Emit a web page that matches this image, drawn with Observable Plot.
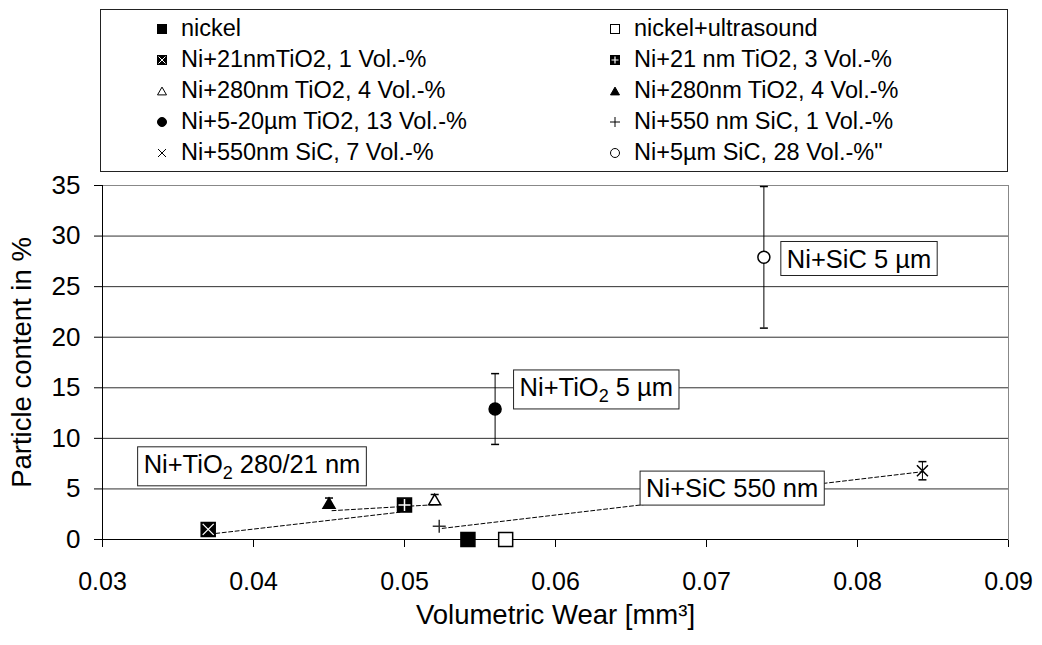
<!DOCTYPE html>
<html>
<head>
<meta charset="utf-8">
<script src="https://cdn.jsdelivr.net/npm/d3@7"></script>
<script src="https://cdn.jsdelivr.net/npm/@observablehq/plot@0.6"></script>
<style>
html,body{margin:0;padding:0;background:#fff;}
body{font-family:"Liberation Sans",Arial,sans-serif;color:#000;width:1042px;}
#legendWrap{position:relative;height:178px;}
#legend{position:absolute;left:100px;top:9px;width:908px;height:163px;box-sizing:border-box;border:1px solid #222;
  display:grid;grid-template-columns:453px 453px;grid-auto-rows:31px;padding-top:3px;}
.item{display:flex;align-items:center;font-size:23.5px;white-space:nowrap;line-height:31px;}
.item svg{margin-left:53px;margin-right:11px;flex:none;overflow:visible;}
#chart svg{display:block;}
g[aria-label="y-axis tick label"] text{font-size:26px;}
g[aria-label="x-axis tick label"] text{font-size:25px;}
g[aria-label="y-axis label"] text,g[aria-label="x-axis label"] text{font-size:27.5px;}
</style>
</head>
<body>
<div id="legendWrap"><div id="legend"></div></div>
<div id="chart"></div>
<script>
// ---- data ----
const series = ["nickel", "nickel+ultrasound", "Ni+21nmTiO2, 1 Vol.-%", "Ni+21 nm TiO2, 3 Vol.-%",
  "Ni+280nm TiO2, 4 Vol.-%", "Ni+280nm TiO2, 4 Vol.-%", "Ni+5-20µm TiO2, 13 Vol.-%",
  "Ni+550 nm SiC, 1 Vol.-%", "Ni+550nm SiC, 7 Vol.-%", "Ni+5µm SiC, 28 Vol.-%\""];
const wear    = [0.0542, 0.0567, 0.0370, 0.0500, 0.0520, 0.0450, 0.0560, 0.0523, 0.0843, 0.0738];
const content = [0, 0, 1.0, 3.4, 3.95, 3.6, 12.9, 1.3, 6.8, 27.9];
const errBar  = [0, 0, 0, 0, 0.5, 0.5, 3.5, 0, 0.9, 7.0];

const trendGroup = ["TiO2 21nm", "TiO2 21nm", "TiO2 280nm", "TiO2 280nm", "SiC 550nm", "SiC 550nm"];
const trendWear  = [0.0375, 0.0497, 0.0452, 0.0521, 0.0525, 0.0843];
const trendCont  = [0.6, 2.7, 2.85, 3.45, 1.1, 6.7];

const noteText = ["Ni+TiO2 280/21 nm", "Ni+TiO2 5 µm", "Ni+SiC 550 nm", "Ni+SiC 5 µm"];
const noteWear = [0.0399, 0.0627, 0.0717, 0.0801];
const noteCont = [7.4, 15.0, 5.0, 27.7];

const xTicks = [0.03, 0.04, 0.05, 0.06, 0.07, 0.08, 0.09];
const yTicks = [0, 5, 10, 15, 20, 25, 30, 35];

// ---- marker styles (per series index) ----
const markerKind = ["squareFill", "squareOpen", "squareX", "squarePlus", "triangleOpen",
  "triangleFill", "circleFill", "plus", "times", "circleOpen"];

// custom symbols: r = sqrt(size/PI) is the half extent in px
const sym = fn => ({draw(c, size) { fn(c, Math.sqrt(size / Math.PI)); }});
const squareSym = sym((c, r) => { c.rect(-r, -r, 2 * r, 2 * r); });
const triSym = sym((c, r) => { const h = r * Math.sqrt(3); c.moveTo(0, -h / 2); c.lineTo(r, h / 2); c.lineTo(-r, h / 2); c.closePath(); });
const plusSym = sym((c, r) => { c.moveTo(-r, 0); c.lineTo(r, 0); c.moveTo(0, -r); c.lineTo(0, r); });
const timesSym = sym((c, r) => { c.moveTo(-r, -r); c.lineTo(r, r); c.moveTo(-r, r); c.lineTo(r, -r); });
const capSym = sym((c, r) => { c.moveTo(-r, 0); c.lineTo(r, 0); });

const pts = series.map((name, i) => ({name, x: wear[i], y: content[i], e: errBar[i], kind: markerKind[i]}));
const of = k => pts.filter(d => d.kind === k);

// ---- legend ----
const legend = d3.select("#legend");
series.forEach((name, i) => {
  const item = legend.append("div").attr("class", "item");
  const s = item.append("svg").attr("width", 16).attr("height", 16).append("g").attr("transform", "translate(8,8)");
  const k = markerKind[i];
  const half = 4.5;
  if (k === "squareFill" || k === "squareOpen" || k === "squareX" || k === "squarePlus") {
    s.append("rect").attr("x", -half).attr("y", -half).attr("width", 2 * half).attr("height", 2 * half)
      .attr("fill", k === "squareOpen" ? "#fff" : "#000").attr("stroke", "#000").attr("stroke-width", 1);
    if (k === "squareX") s.append("path").attr("d", `M${-half + 1},${-half + 1}L${half - 1},${half - 1}M${-half + 1},${half - 1}L${half - 1},${-half + 1}`).attr("stroke", "#fff").attr("stroke-width", 1);
    if (k === "squarePlus") s.append("path").attr("d", `M${-half + 1},0L${half - 1},0M0,${-half + 1}L0,${half - 1}`).attr("stroke", "#fff").attr("stroke-width", 1.2);
  } else if (k === "triangleOpen" || k === "triangleFill") {
    const r = 4.5, h = r * Math.sqrt(3);
    s.append("path").attr("d", `M0,${-h / 2}L${r},${h / 2}L${-r},${h / 2}Z`)
      .attr("fill", k === "triangleOpen" ? "#fff" : "#000").attr("stroke", "#000");
  } else if (k === "circleFill" || k === "circleOpen") {
    s.append("circle").attr("r", 4.5).attr("fill", k === "circleOpen" ? "#fff" : "#000").attr("stroke", "#000");
  } else if (k === "plus") {
    s.append("path").attr("d", "M-5,0L5,0M0,-5L0,5").attr("stroke", "#000");
  } else if (k === "times") {
    s.append("path").attr("d", "M-4,-4L4,4M-4,4L4,-4").attr("stroke", "#000");
  }
  item.append("span").text(name);
});

// ---- chart ----
const trend = trendWear.map((x, i) => ({x, y: trendCont[i], g: trendGroup[i]}));
const notes = noteText.map((t, i) => ({t, x: noteWear[i], y: noteCont[i]}));
const withErr = pts.filter(d => d.e > 0);

const chart = Plot.plot({
  width: 1042,
  height: 467,
  marginTop: 7,
  marginBottom: 106,
  marginLeft: 102,
  marginRight: 34,
  style: {fontFamily: "Liberation Sans, Arial, sans-serif", fontSize: "24px", color: "#000", background: "#fff", overflow: "visible"},
  x: {domain: [0.03, 0.09], ticks: xTicks, tickFormat: d3.format(".2f"), tickSize: 8, tickPadding: 25,
      label: "Volumetric Wear [mm³]", labelAnchor: "center", labelOffset: 84, labelArrow: false},
  y: {domain: [0, 35], ticks: yTicks, tickFormat: d => String(d), tickSize: 8, tickPadding: 14,
      label: "Particle content in %", labelAnchor: "center", labelOffset: 91, labelArrow: false},
  marks: [
    Plot.ruleY(yTicks.filter(d => d > 0), {stroke: "#303030"}),
    Plot.frame({stroke: "#888"}),
    Plot.ruleX([0.03], {stroke: "#000"}),
    Plot.ruleY([0], {stroke: "#000"}),
    Plot.line(trend, {x: "x", y: "y", z: "g", stroke: "#000", strokeWidth: 1, strokeDasharray: "4,2.5"}),
    Plot.ruleX(withErr, {x: "x", y1: d => d.y - d.e, y2: d => d.y + d.e, stroke: "#000"}),
    Plot.dot(withErr, {x: "x", y: d => d.y - d.e, symbol: capSym, r: 4, stroke: "#000", fill: "none"}),
    Plot.dot(withErr, {x: "x", y: d => d.y + d.e, symbol: capSym, r: 4, stroke: "#000", fill: "none"}),
    Plot.dot(of("squareFill"), {x: "x", y: "y", symbol: squareSym, r: 7, fill: "#000", stroke: "#000"}),
    Plot.dot(of("squareOpen"), {x: "x", y: "y", symbol: squareSym, r: 7, fill: "#fff", stroke: "#000"}),
    Plot.dot(of("squareX"), {x: "x", y: "y", symbol: squareSym, r: 7, fill: "#000", stroke: "#000"}),
    Plot.dot(of("squareX"), {x: "x", y: "y", symbol: timesSym, r: 5.5, fill: "none", stroke: "#fff", strokeWidth: 1.3}),
    Plot.dot(of("squarePlus"), {x: "x", y: "y", symbol: squareSym, r: 7, fill: "#000", stroke: "#000"}),
    Plot.dot(of("squarePlus"), {x: "x", y: "y", symbol: plusSym, r: 6, fill: "none", stroke: "#fff", strokeWidth: 1.5}),
    Plot.dot(of("triangleOpen"), {x: "x", y: "y", symbol: triSym, r: 6, fill: "#fff", stroke: "#000"}),
    Plot.dot(of("triangleFill"), {x: "x", y: "y", symbol: triSym, r: 6, fill: "#000", stroke: "#000"}),
    Plot.dot(of("circleFill"), {x: "x", y: "y", symbol: "circle", r: 6, fill: "#000", stroke: "#000"}),
    Plot.dot(of("circleOpen"), {x: "x", y: "y", symbol: "circle", r: 6, fill: "#fff", stroke: "#000"}),
    Plot.dot(of("plus"), {x: "x", y: "y", symbol: plusSym, r: 6.5, fill: "none", stroke: "#333"}),
    Plot.dot(of("times"), {x: "x", y: "y", symbol: timesSym, r: 5.5, fill: "none", stroke: "#000"}),
    Plot.text(notes, {x: "x", y: "y", text: "t", fill: "#000", fontSize: 25.5, textAnchor: "middle"})
  ]
});
document.getElementById("chart").appendChild(chart);

// boxes & subscripts for the annotation labels (the only plain "text" mark)
d3.select(chart).selectAll('g[aria-label="text"] text').each(function () {
  const t = d3.select(this);
  const s = t.text();
  if (s.includes("TiO2")) {
    const [a, b] = s.split("TiO2");
    t.text(null);
    t.append("tspan").text(a + "TiO");
    t.append("tspan").attr("dy", 6).attr("font-size", 18).text("2");
    t.append("tspan").attr("dy", -6).text(b);
  }
  const bb = this.getBBox();
  const rect = document.createElementNS("http://www.w3.org/2000/svg", "rect");
  rect.setAttribute("x", bb.x - 6);
  rect.setAttribute("y", bb.y - 3);
  rect.setAttribute("width", bb.width + 12);
  rect.setAttribute("height", bb.height + 6);
  rect.setAttribute("fill", "#fff");
  rect.setAttribute("stroke", "#222");
  const tr = this.getAttribute("transform");
  if (tr) rect.setAttribute("transform", tr);
  this.parentNode.insertBefore(rect, this);
});
</script>
</body>
</html>
